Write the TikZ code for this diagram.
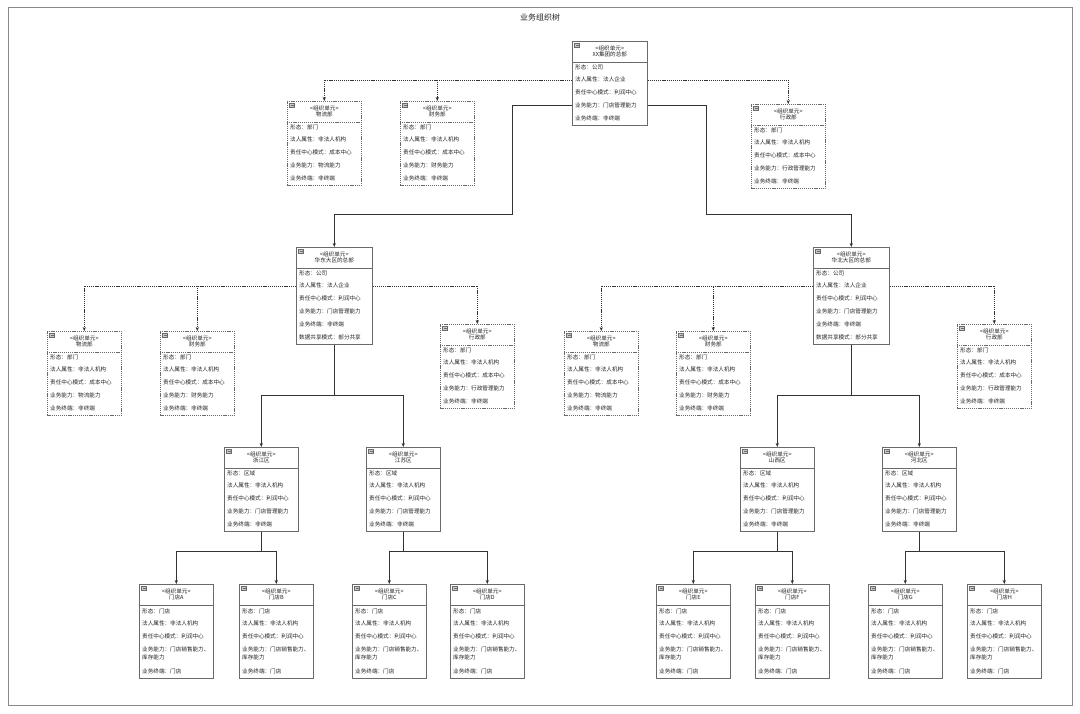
\documentclass[tikz,border=0pt]{standalone}
\usepackage{fontspec}
\setmainfont{Noto Sans CJK SC}
\usetikzlibrary{arrows.meta}
\definecolor{boxc}{HTML}{6A6A6A}
\definecolor{linec}{HTML}{333333}
\definecolor{txtc}{HTML}{222222}
\definecolor{framec}{HTML}{8A8A8A}
\newcommand\rowfont{\fontsize{5.6}{6.5}\selectfont}
\newcommand\headfont{\fontsize{5.6}{6.6}\selectfont}
\newcommand\rootrows{26/形态：公司,38.8/法人属性：法人企业,51.6/责任中心模式：利润中心,64.4/业务能力：门店管理能力,77.2/业务终端：非终端}
\newcommand\regrows{26/形态：公司,38.8/法人属性：法人企业,51.6/责任中心模式：利润中心,64.4/业务能力：门店管理能力,77.2/业务终端：非终端,90/数据共享模式：部分共享}
\newcommand\wlrows{26/形态：部门,38.8/法人属性：非法人机构,51.6/责任中心模式：成本中心,64.4/业务能力：物流能力,77.2/业务终端：非终端}
\newcommand\cwrows{26/形态：部门,38.8/法人属性：非法人机构,51.6/责任中心模式：成本中心,64.4/业务能力：财务能力,77.2/业务终端：非终端}
\newcommand\xzrows{26/形态：部门,38.8/法人属性：非法人机构,51.6/责任中心模式：成本中心,64.4/业务能力：行政管理能力,77.2/业务终端：非终端}
\newcommand\zonerows{26/形态：区域,38.8/法人属性：非法人机构,51.6/责任中心模式：利润中心,64.4/业务能力：门店管理能力,77.2/业务终端：非终端}
\newcommand\shoprows{27/形态：门店,39.5/法人属性：非法人机构,52/责任中心模式：利润中心,65.5/业务能力：门店销售能力、,73.5/库存能力,87/业务终端：门店}
\tikzset{
  ubox/.style={draw=boxc, line width=0.6pt, fill=white, inner sep=0pt},
  solidb/.style={},
  dashb/.style={dash pattern=on 1.2pt off 0.9pt},
  hline/.style={draw=boxc, line width=0.6pt},
  headt/.style={font=\headfont, text=txtc, align=center, inner sep=0pt},
  rowt/.style={font=\rowfont, text=txtc, anchor=west, inner sep=0pt},
  iconb/.style={draw=boxc, fill=boxc!35, line width=0.4pt, minimum width=5pt, minimum height=4pt, inner sep=0pt},
  conn/.style={draw=linec, line width=0.6pt, -{Stealth[length=4pt,width=3.2pt]}},
  dconn/.style={conn, dash pattern=on 1.2pt off 0.9pt},
}
% name, x, y, w, h, style, title, rows
\newcommand\orgunit[8]{%
  \node[ubox,#6,minimum width=#4pt,minimum height=#5pt,anchor=north west] (#1) at (#2,#3) {};
  \draw[hline,#6] ([yshift=-21pt]#1.north west) -- ([yshift=-21pt]#1.north east);
  \node[headt] (#1-t) at ([yshift=-10.5pt]#1.north) {<组织单元>\\#7};
  \node[iconb] (#1-i) at ([xshift=5pt,yshift=-4.5pt]#1.north west) {};
  \draw[boxc,line width=0.4pt] ([xshift=-1.5pt]#1-i.center) -- ([xshift=1.5pt]#1-i.center);
  \foreach \dy/\t [count=\i] in #8 {%
    \node[rowt] (#1-r\i) at ([xshift=3pt,yshift=-\dy pt]#1.north west) {\t};
    \coordinate (#1-w\i) at ([yshift=-\dy pt]#1.north west);
    \coordinate (#1-e\i) at ([yshift=-\dy pt]#1.north east);
  }%
}
\begin{document}
\begin{tikzpicture}[x=1pt,y=-1pt]
\useasboundingbox (0,0) rectangle (1080,713);
\fill[white] (0,0) rectangle (1080,713);
\draw[framec,line width=0.6pt] (8,7) rectangle (1072,705);
\node[font=\fontsize{8}{9}\selectfont, text=txtc, inner sep=0pt] (title) at (540,17) {业务组织树};

% level 0
\orgunit{root}{572}{41}{75}{84}{solidb}{XX集团的总部}{\rootrows}
% level 1 departments
\orgunit{d1}{287}{101}{74}{84}{dashb}{物流部}{\wlrows}
\orgunit{d2}{400}{101}{74}{84}{dashb}{财务部}{\cwrows}
\orgunit{d3}{751}{104}{74}{84}{dashb}{行政部}{\xzrows}
% level 1 regions
\orgunit{east}{296}{247}{76}{97}{solidb}{华东大区的总部}{\regrows}
\orgunit{north}{813}{247}{76}{97}{solidb}{华北大区的总部}{\regrows}
% level 2 departments
\orgunit{e1}{47}{331}{74}{84}{dashb}{物流部}{\wlrows}
\orgunit{e2}{160}{331}{74}{84}{dashb}{财务部}{\cwrows}
\orgunit{e3}{440}{324}{74}{84}{dashb}{行政部}{\xzrows}
\orgunit{n1}{564}{331}{74}{84}{dashb}{物流部}{\wlrows}
\orgunit{n2}{676}{331}{74}{84}{dashb}{财务部}{\cwrows}
\orgunit{n3}{957}{324}{74}{84}{dashb}{行政部}{\xzrows}
% zones
\orgunit{zj}{224}{447}{74}{84}{solidb}{浙江区}{\zonerows}
\orgunit{js}{366}{447}{74}{84}{solidb}{江苏区}{\zonerows}
\orgunit{sx}{740}{447}{74}{84}{solidb}{山西区}{\zonerows}
\orgunit{hb}{882}{447}{74}{84}{solidb}{河北区}{\zonerows}
% shops
\orgunit{sA}{139}{584}{74}{94}{solidb}{门店A}{\shoprows}
\orgunit{sB}{239}{584}{74}{94}{solidb}{门店B}{\shoprows}
\orgunit{sC}{352}{584}{74}{94}{solidb}{门店C}{\shoprows}
\orgunit{sD}{450}{584}{74}{94}{solidb}{门店D}{\shoprows}
\orgunit{sE}{656}{584}{74}{94}{solidb}{门店E}{\shoprows}
\orgunit{sF}{755}{584}{74}{94}{solidb}{门店F}{\shoprows}
\orgunit{sG}{868}{584}{74}{94}{solidb}{门店G}{\shoprows}
\orgunit{sH}{967}{584}{74}{94}{solidb}{门店H}{\shoprows}

% connectors from root
\draw[dconn] (root-w2) -| (d1.north);
\draw[dconn] (root-w2) -| (d2.north);
\draw[dconn] (root-e2) -| (d3.north);
\draw[conn] (root-w4) -- ++(-60,0) |- ([yshift=33pt]east.north) -- (east.north);
\draw[conn] (root-e4) -- ++(59,0) |- ([yshift=33pt]north.north) -- (north.north);
% east
\draw[dconn] (east-w2) -| (e1.north);
\draw[dconn] (east-w2) -| (e2.north);
\draw[dconn] (east-e2) -| (e3.north);
\draw[conn] (east.south) -- ++(0,51) -| (zj.north);
\draw[conn] (east.south) -- ++(0,51) -| (js.north);
% north
\draw[dconn] (north-w2) -| (n1.north);
\draw[dconn] (north-w2) -| (n2.north);
\draw[dconn] (north-e2) -| (n3.north);
\draw[conn] (north.south) -- ++(0,51) -| (sx.north);
\draw[conn] (north.south) -- ++(0,51) -| (hb.north);
% zones to shops
\draw[conn] (zj.south) -- ++(0,20) -| (sA.north);
\draw[conn] (zj.south) -- ++(0,20) -| (sB.north);
\draw[conn] (js.south) -- ++(0,20) -| (sC.north);
\draw[conn] (js.south) -- ++(0,20) -| (sD.north);
\draw[conn] (sx.south) -- ++(0,20) -| (sE.north);
\draw[conn] (sx.south) -- ++(0,20) -| (sF.north);
\draw[conn] (hb.south) -- ++(0,20) -| (sG.north);
\draw[conn] (hb.south) -- ++(0,20) -| (sH.north);
\end{tikzpicture}
\end{document}
